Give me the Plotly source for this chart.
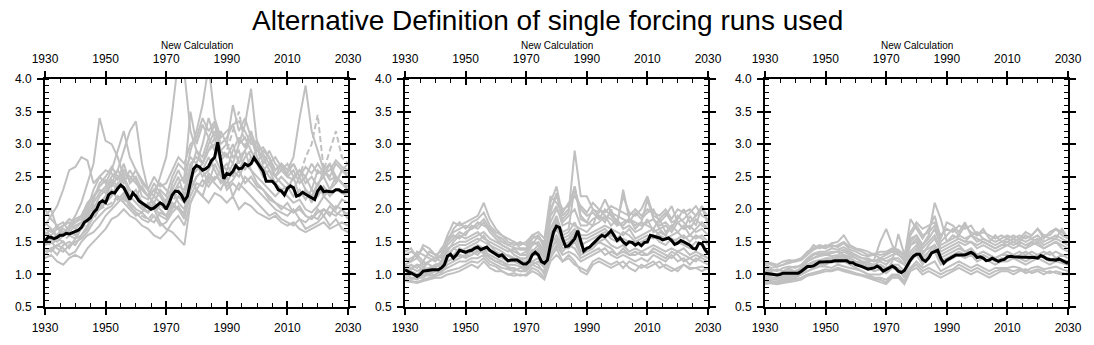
import plotly.graph_objects as go

years = list(range(1930, 2031))
years2 = list(range(1930, 2031, 2))

title_text = "Alternative Definition of single forcing runs used"
subtitle_text = "New Calculation"
x_ticks = [1930, 1950, 1970, 1990, 2010, 2030]
y_ticks = [0.5, 1.0, 1.5, 2.0, 2.5, 3.0, 3.5, 4.0]

# ---------------- panel 1 ----------------
mean1 = [1.51, 1.57, 1.57, 1.55, 1.57, 1.60, 1.60, 1.63, 1.62, 1.64,
         1.66, 1.68, 1.72, 1.80, 1.83, 1.87, 1.95, 2.00, 2.10, 2.13,
         2.10, 2.22, 2.26, 2.25, 2.32, 2.37, 2.33, 2.25, 2.15, 2.25,
         2.20, 2.13, 2.10, 2.06, 2.03, 2.00, 2.02, 2.06, 2.10, 2.07,
         2.00, 2.10, 2.22, 2.28, 2.27, 2.22, 2.13, 2.20, 2.40, 2.62,
         2.67, 2.65, 2.60, 2.62, 2.66, 2.75, 2.80, 3.03, 2.75, 2.47,
         2.55, 2.53, 2.58, 2.67, 2.62, 2.63, 2.70, 2.67, 2.70, 2.79,
         2.72, 2.65, 2.58, 2.43, 2.43, 2.43, 2.38, 2.30, 2.28, 2.22,
         2.32, 2.36, 2.33, 2.20, 2.22, 2.26, 2.23, 2.20, 2.17, 2.15,
         2.28, 2.34, 2.27, 2.28, 2.27, 2.27, 2.30, 2.30, 2.27, 2.27,
         2.27]

p1_g1 = [1.75, 1.9, 2.05, 2.3, 2.6, 2.65, 2.8, 2.75, 2.4, 2.5,
         2.6, 2.55, 2.45, 2.7, 2.4, 2.5, 2.3, 2.2, 2.4, 2.25,
         2.1, 2.3, 2.5, 2.2, 2.6, 2.9, 2.8, 3.1, 3.3, 2.9,
         2.8, 3.0, 2.7, 2.9, 3.1, 2.8, 2.6, 2.7, 2.5, 2.4,
         2.3, 2.5, 2.2, 2.3, 2.1, 2.4, 2.2, 2.3, 2.5, 2.4,
         2.3]
p1_g2 = [1.45, 1.55, 1.5, 1.6, 1.75, 1.9, 2.1, 2.4, 2.7, 3.4,
         3.05, 3.0, 2.8, 2.5, 2.3, 2.2, 2.05, 1.95, 2.1, 2.0,
         1.9, 2.1, 2.0, 1.85, 2.3, 2.5, 2.6, 2.4, 2.7, 2.5,
         2.4, 2.6, 2.5, 2.7, 2.6, 2.4, 2.3, 2.2, 2.1, 2.0,
         2.1, 1.95, 2.0, 1.9, 1.85, 1.95, 2.0, 1.9, 2.05, 2.0,
         1.9]
p1_g3 = [1.6, 1.7, 1.55, 1.65, 1.7, 1.8, 1.85, 2.0, 2.3, 2.5,
         2.4, 2.6, 2.9, 3.2, 2.8, 2.6, 2.4, 2.3, 2.2, 2.5,
         2.8, 3.5, 4.3, 4.1, 3.2, 2.9, 2.7, 3.0, 3.2, 2.9,
         3.0, 2.8, 2.9, 2.6, 2.8, 2.7, 2.5, 2.6, 2.4, 2.5,
         2.4, 2.3, 2.5, 2.3, 2.2, 2.4, 2.5, 2.3, 2.4, 2.6,
         2.5]
p1_g4 = [1.35, 1.4, 1.3, 1.45, 1.5, 1.45, 1.6, 1.75, 1.9, 2.0,
         2.2, 2.4, 2.6, 2.9, 3.2, 3.35, 2.7, 2.3, 2.0, 1.8,
         1.7, 1.65, 1.55, 1.45, 2.1, 2.3, 2.2, 2.5, 2.4, 2.3,
         2.5, 2.2, 2.4, 2.3, 2.2, 2.1, 2.0, 1.9, 1.95, 1.85,
         1.8, 1.75, 1.85, 1.7, 1.75, 1.8, 1.9, 1.75, 1.85, 1.7,
         1.65]
p1_g5 = [1.7, 1.65, 1.75, 1.6, 1.7, 1.85, 1.9, 2.1, 2.2, 2.3,
         2.25, 2.4, 2.3, 2.5, 2.2, 2.3, 2.1, 2.05, 2.2, 2.1,
         2.0, 2.4, 2.6, 2.4, 2.9, 3.2, 3.6, 4.2, 3.4, 3.1,
         3.2, 3.3, 3.0, 3.3, 3.85, 3.0, 2.7, 2.9, 2.7, 2.6,
         2.5, 2.6, 2.4, 2.5, 2.3, 2.6, 2.5, 2.7, 2.4, 2.6,
         2.7]
p1_g6 = [1.3, 1.4, 1.45, 1.5, 1.4, 1.55, 1.6, 1.7, 1.9, 2.0,
         2.1, 2.2, 2.4, 2.35, 2.2, 2.1, 2.0, 1.95, 2.05, 1.9,
         1.85, 2.0, 2.2, 2.1, 2.3, 2.5, 2.6, 2.8, 2.6, 2.4,
         2.5, 2.7, 2.6, 2.8, 2.9, 2.7, 2.9, 2.8, 2.5, 2.7,
         2.6, 2.8, 3.4, 3.9, 3.2, 2.9, 2.6, 2.7, 2.5, 2.4,
         2.3]
p1_g7 = [1.25, 1.3, 1.2, 1.15, 1.25, 1.3, 1.25, 1.4, 1.5, 1.6,
         1.7, 1.85, 1.9, 2.0, 1.9, 1.85, 1.75, 1.7, 1.6, 1.55,
         1.65, 1.8, 1.9, 1.75, 2.1, 2.3, 2.2, 2.1, 2.25, 2.2,
         2.1, 2.2, 2.0, 2.1, 2.05, 1.95, 1.9, 1.85, 1.9, 1.8,
         1.75, 1.8, 1.7, 1.65, 1.7, 1.75, 1.8, 1.7, 1.75, 1.8,
         1.75]
p1_g8 = [1.55, 1.5, 1.6, 1.7, 1.65, 1.6, 1.75, 1.9, 2.05, 2.1,
         2.2, 2.3, 2.15, 2.25, 2.1, 2.0, 1.95, 2.1, 2.0, 2.05,
         2.15, 2.3, 2.1, 2.0, 2.4, 2.7, 2.5, 2.6, 2.8, 2.6,
         2.7, 2.5, 2.8, 2.9, 2.6, 2.5, 2.4, 2.3, 2.2, 2.3,
         2.2, 2.1, 2.15, 2.0, 1.95, 2.05, 2.2, 2.1, 2.0, 2.15,
         2.1]
p1_g9 = [1.8, 1.7, 1.6, 1.75, 1.8, 1.7, 1.8, 1.95, 2.0, 2.2,
         2.3, 2.45, 2.35, 2.6, 2.5, 2.4, 2.3, 2.2, 2.3, 2.4,
         2.3, 2.2, 2.4, 2.5, 3.5, 3.0, 3.3, 3.1, 2.9, 3.2,
         3.0, 3.6, 3.2, 3.4, 3.1, 2.9, 2.95, 2.8, 2.6, 2.7,
         2.5, 2.45, 2.6, 2.5, 2.7, 2.55, 2.6, 2.5, 2.7, 2.6,
         2.55]
p1_g10 = [1.5, 1.45, 1.55, 1.5, 1.6, 1.65, 1.7, 1.8, 1.85, 2.0,
          2.05, 2.1, 2.2, 2.15, 2.05, 1.95, 1.9, 1.85, 1.95, 2.05,
          2.0, 2.1, 2.3, 2.2, 2.5, 2.6, 2.7, 2.9, 3.1, 2.8,
          2.9, 3.2, 3.5, 3.0, 2.8, 2.9, 2.7, 2.8, 2.6, 2.7,
          2.6, 2.7, 2.5, 2.8, 3.0, 3.45, 2.6, 2.9, 3.2, 2.8,
          2.7]
p1_g11 = [1.9, 2.0, 1.7, 1.65, 1.6, 1.55, 1.7, 1.85, 2.1, 2.25,
          2.35, 2.5, 2.6, 2.45, 2.3, 2.2, 2.35, 2.2, 2.1, 2.3,
          2.2, 2.5, 2.7, 2.6, 2.8, 2.7, 3.0, 3.4, 3.1, 2.7,
          2.6, 2.9, 3.1, 2.95, 3.2, 2.9, 2.8, 2.6, 2.5, 2.6,
          2.7, 2.5, 2.6, 2.4, 2.5, 2.35, 2.6, 2.45, 2.5, 2.4,
          2.35]
p1_g12 = [1.4, 1.35, 1.45, 1.4, 1.3, 1.35, 1.5, 1.6, 1.65, 1.75,
          1.9, 2.0, 2.1, 2.2, 2.05, 1.95, 1.85, 1.8, 1.9, 1.75,
          1.8, 1.95, 2.05, 1.9, 2.2, 2.4, 2.35, 2.55, 2.45, 2.6,
          2.3, 2.4, 2.3, 2.5, 2.4, 2.3, 2.2, 2.1, 2.0, 1.95,
          1.9, 2.0, 1.85, 1.8, 1.9, 1.85, 2.0, 1.95, 1.9, 2.0,
          1.85]
p1_g13 = [1.65, 1.6, 1.7, 1.75, 1.85, 1.8, 1.9, 2.05, 2.2, 2.35,
          2.45, 2.35, 2.5, 2.4, 2.6, 2.45, 2.2, 2.15, 2.3, 2.2,
          2.05, 2.25, 2.35, 2.3, 2.7, 2.8, 2.7, 2.9, 3.0, 2.75,
          2.85, 2.7, 3.0, 3.1, 2.9, 2.75, 2.65, 2.5, 2.4, 2.3,
          2.35, 2.2, 2.3, 2.15, 2.3, 2.2, 2.35, 2.2, 2.3, 2.25,
          2.2]
p1_g14 = [1.45, 1.5, 1.4, 1.35, 1.45, 1.5, 1.55, 1.65, 1.8, 1.9,
          2.0, 2.05, 2.2, 2.1, 2.0, 1.9, 1.95, 1.85, 1.8, 1.95,
          1.9, 2.05, 2.0, 1.95, 2.5, 2.3, 2.45, 2.35, 2.5, 2.45,
          2.35, 2.45, 2.6, 2.4, 2.5, 2.35, 2.3, 2.15, 2.1, 2.05,
          2.0, 1.95, 2.05, 1.9, 1.85, 2.0, 1.9, 2.05, 1.95, 1.9,
          1.95]
p1_g15 = [2.0, 1.85, 1.75, 1.8, 1.65, 1.75, 1.8, 1.95, 2.15, 2.4,
          2.5, 2.65, 2.5, 2.55, 2.45, 2.6, 2.45, 2.3, 2.5, 2.35,
          2.4, 2.6, 2.8, 2.7, 3.0, 3.1, 3.4, 3.2, 3.35, 3.0,
          3.1, 3.3, 3.35, 3.2, 3.0, 3.05, 2.85, 2.7, 2.8, 2.65,
          2.55, 2.7, 2.5, 2.65, 2.55, 2.7, 2.55, 2.6, 2.75, 2.65,
          2.6]

# ---------------- panel 2 ----------------
mean2 = [1.07, 1.05, 1.02, 1.00, 0.97, 1.00, 1.05, 1.06, 1.06, 1.07,
         1.07, 1.07, 1.10, 1.15, 1.28, 1.31, 1.25, 1.30, 1.37, 1.36,
         1.34, 1.36, 1.37, 1.40, 1.42, 1.38, 1.40, 1.42, 1.37, 1.34,
         1.30, 1.28, 1.30, 1.25, 1.21, 1.22, 1.22, 1.22, 1.19, 1.16,
         1.16, 1.20, 1.30, 1.34, 1.30, 1.20, 1.17, 1.22, 1.45, 1.65,
         1.74, 1.72, 1.55, 1.43, 1.44, 1.50, 1.55, 1.67, 1.52, 1.36,
         1.40, 1.42, 1.47, 1.52, 1.56, 1.60, 1.58, 1.62, 1.67, 1.60,
         1.52, 1.56, 1.50, 1.46, 1.50, 1.49, 1.45, 1.48, 1.44, 1.49,
         1.50, 1.60, 1.59, 1.58, 1.56, 1.53, 1.55, 1.56, 1.52, 1.46,
         1.48, 1.52, 1.50, 1.47, 1.45, 1.40, 1.39, 1.48, 1.47, 1.38,
         1.32]

p2_h1 = [1.35, 1.4, 1.25, 1.45, 1.4, 1.3, 1.35, 1.6, 1.8, 1.75,
         1.8, 1.85, 1.9, 2.1, 1.85, 1.7, 1.6, 1.55, 1.5, 1.45,
         1.5, 1.6, 1.55, 1.5, 2.1, 2.35, 1.9, 2.0, 2.3, 2.0,
         1.9, 1.95, 1.85, 2.0, 1.9, 1.8, 2.2, 1.95, 1.9, 2.0,
         2.2, 1.9, 1.85, 1.95, 1.8, 1.85, 2.0, 1.8, 1.9, 2.05,
         1.8]
p2_h2 = [1.2, 1.25, 1.3, 1.2, 1.35, 1.3, 1.25, 1.45, 1.55, 1.65,
         1.6, 1.75, 1.7, 1.8, 1.65, 1.55, 1.45, 1.4, 1.35, 1.3,
         1.35, 1.45, 1.6, 1.4, 1.8, 2.0, 1.85, 1.95, 2.9, 2.2,
         2.2, 2.0, 1.9, 1.85, 1.95, 1.8, 1.75, 1.85, 1.7, 1.8,
         1.75, 1.7, 1.85, 1.65, 1.75, 1.8, 1.7, 1.9, 1.75, 2.05,
         1.75]
p2_h3 = [1.0, 0.95, 0.92, 1.0, 1.0, 1.05, 1.02, 1.15, 1.2, 1.25,
         1.3, 1.35, 1.3, 1.4, 1.25, 1.2, 1.2, 1.1, 1.1, 1.05,
         1.05, 1.15, 1.2, 1.1, 1.35, 1.55, 1.4, 1.4, 1.5, 1.3,
         1.35, 1.4, 1.5, 1.45, 1.4, 1.3, 1.35, 1.3, 1.35, 1.3,
         1.3, 1.4, 1.35, 1.3, 1.25, 1.35, 1.3, 1.25, 1.2, 1.3,
         1.25]
p2_h4 = [0.9, 0.88, 0.87, 0.9, 0.92, 0.95, 0.95, 1.0, 1.02, 1.05,
         1.1, 1.15, 1.1, 1.2, 1.1, 1.05, 1.05, 1.0, 0.98, 1.0,
         0.98, 1.05, 1.0, 0.92, 1.2, 1.3, 1.2, 1.25, 1.15, 1.1,
         1.05, 1.2, 1.25, 1.2, 1.15, 1.2, 1.1, 1.2, 1.15, 1.1,
         1.15, 1.2, 1.1, 1.15, 1.1, 1.05, 1.15, 1.1, 1.1, 1.05,
         1.1]
p2_h5 = [1.15, 1.1, 1.05, 1.1, 1.2, 1.25, 1.2, 1.35, 1.5, 1.6,
         1.55, 1.6, 1.65, 1.55, 1.5, 1.45, 1.4, 1.35, 1.4, 1.3,
         1.3, 1.45, 1.5, 1.35, 1.9, 2.05, 1.75, 1.8, 1.75, 1.7,
         1.65, 1.75, 1.8, 1.9, 1.75, 1.85, 1.7, 1.75, 1.65, 1.7,
         1.85, 1.65, 1.7, 1.75, 1.65, 1.8, 1.7, 1.75, 1.65, 1.7,
         1.6]
p2_h6 = [1.05, 1.1, 1.15, 1.05, 1.1, 1.15, 1.1, 1.25, 1.4, 1.35,
         1.4, 1.45, 1.5, 1.6, 1.45, 1.35, 1.3, 1.3, 1.25, 1.2,
         1.2, 1.3, 1.4, 1.25, 1.6, 1.85, 1.65, 1.7, 2.35, 1.9,
         1.8, 1.75, 2.0, 1.9, 1.85, 1.75, 2.3, 1.85, 1.75, 1.8,
         2.15, 1.85, 1.7, 1.6, 1.75, 1.65, 1.75, 1.6, 1.7, 1.8,
         1.7]
p2_h7 = [1.08, 1.02, 1.0, 0.98, 1.05, 1.05, 1.1, 1.3, 1.3, 1.4,
         1.35, 1.4, 1.45, 1.4, 1.35, 1.3, 1.25, 1.2, 1.2, 1.15,
         1.2, 1.3, 1.3, 1.2, 1.5, 1.7, 1.5, 1.55, 1.65, 1.45,
         1.5, 1.55, 1.6, 1.65, 1.55, 1.5, 1.55, 1.5, 1.45, 1.5,
         1.55, 1.6, 1.5, 1.45, 1.55, 1.5, 1.45, 1.4, 1.5, 1.45,
         1.35]
p2_h8 = [0.95, 0.93, 0.95, 1.0, 0.98, 1.0, 1.05, 1.1, 1.15, 1.2,
         1.2, 1.25, 1.25, 1.3, 1.2, 1.15, 1.1, 1.08, 1.05, 1.1,
         1.1, 1.2, 1.15, 1.0, 1.3, 1.45, 1.3, 1.35, 1.3, 1.2,
         1.25, 1.3, 1.35, 1.4, 1.3, 1.25, 1.3, 1.25, 1.2, 1.25,
         1.2, 1.3, 1.25, 1.2, 1.3, 1.2, 1.25, 1.15, 1.25, 1.2,
         1.15]
p2_h9 = [1.25, 1.2, 1.35, 1.3, 1.25, 1.2, 1.3, 1.55, 1.65, 1.7,
         1.75, 1.7, 1.8, 1.75, 1.7, 1.6, 1.55, 1.45, 1.5, 1.4,
         1.4, 1.55, 1.6, 1.45, 2.0, 2.2, 2.0, 2.05, 2.35, 1.85,
         1.8, 2.0, 1.95, 2.15, 1.95, 1.9, 1.85, 1.8, 1.95, 1.85,
         1.95, 2.0, 1.8, 1.9, 2.05, 1.8, 1.85, 1.95, 2.05, 1.9,
         1.85]
p2_h10 = [0.92, 0.9, 0.88, 0.92, 0.95, 0.98, 1.0, 1.05, 1.08, 1.1,
          1.15, 1.2, 1.18, 1.25, 1.15, 1.12, 1.05, 1.0, 1.02, 0.98,
          1.0, 1.1, 1.05, 0.95, 1.25, 1.4, 1.2, 1.3, 1.2, 1.05,
          1.0, 1.15, 1.2, 1.15, 1.1, 1.15, 1.2, 1.1, 1.05, 1.15,
          1.1, 1.15, 1.2, 1.1, 1.05, 1.1, 1.15, 1.08, 1.1, 1.12,
          1.08]
p2_h11 = [1.1, 1.15, 1.1, 1.2, 1.15, 1.1, 1.2, 1.4, 1.45, 1.5,
          1.5, 1.55, 1.6, 1.65, 1.55, 1.5, 1.45, 1.4, 1.3, 1.25,
          1.25, 1.35, 1.45, 1.3, 1.7, 1.9, 1.6, 1.65, 1.8, 1.6,
          1.6, 1.65, 1.7, 1.75, 1.7, 1.65, 1.6, 1.7, 1.55, 1.6,
          1.65, 1.7, 1.6, 1.55, 1.6, 1.65, 1.55, 1.6, 1.55, 1.6,
          1.5]
p2_h12 = [1.0, 1.05, 1.0, 1.08, 1.1, 1.12, 1.15, 1.2, 1.25, 1.3,
          1.28, 1.3, 1.35, 1.35, 1.3, 1.25, 1.2, 1.15, 1.15, 1.12,
          1.12, 1.2, 1.25, 1.1, 1.45, 1.6, 1.45, 1.5, 1.6, 1.35,
          1.4, 1.45, 1.5, 1.55, 1.45, 1.4, 1.45, 1.35, 1.4, 1.35,
          1.4, 1.45, 1.4, 1.35, 1.4, 1.35, 1.4, 1.3, 1.35, 1.3,
          1.25]
p2_h13 = [1.15, 1.2, 1.25, 1.15, 1.2, 1.25, 1.3, 1.5, 1.6, 1.55,
          1.65, 1.7, 1.75, 1.85, 1.7, 1.6, 1.5, 1.45, 1.42, 1.38,
          1.38, 1.5, 1.45, 1.4, 1.95, 2.25, 1.8, 1.9, 2.0, 1.75,
          1.75, 1.85, 1.9, 1.8, 2.0, 1.75, 1.8, 1.85, 1.8, 1.75,
          1.8, 1.85, 1.75, 1.8, 1.7, 1.9, 1.8, 1.7, 1.85, 1.75,
          1.7]
p2_h14 = [0.98, 1.0, 0.95, 0.95, 1.02, 1.08, 1.05, 1.2, 1.25, 1.3,
          1.25, 1.3, 1.38, 1.32, 1.25, 1.2, 1.15, 1.12, 1.08, 1.05,
          1.08, 1.15, 1.1, 1.05, 1.4, 1.5, 1.35, 1.45, 1.4, 1.25,
          1.3, 1.35, 1.4, 1.3, 1.35, 1.3, 1.4, 1.3, 1.3, 1.35,
          1.3, 1.35, 1.3, 1.25, 1.35, 1.3, 1.2, 1.25, 1.3, 1.25,
          1.2]
p2_h15 = [1.12, 1.08, 1.15, 1.12, 1.05, 1.15, 1.18, 1.3, 1.4, 1.45,
          1.45, 1.5, 1.55, 1.5, 1.45, 1.4, 1.35, 1.28, 1.25, 1.22,
          1.25, 1.38, 1.35, 1.25, 1.6, 1.8, 1.55, 1.6, 1.7, 1.55,
          1.55, 1.6, 1.65, 1.7, 1.6, 1.55, 1.65, 1.6, 1.5, 1.55,
          1.6, 1.55, 1.65, 1.6, 1.5, 1.55, 1.6, 1.5, 1.6, 1.55,
          1.45]
p2_h16 = [1.3, 1.35, 1.3, 1.4, 1.3, 1.25, 1.4, 1.5, 1.7, 1.8,
          1.7, 1.8, 1.85, 1.95, 1.75, 1.65, 1.6, 1.5, 1.45, 1.5,
          1.45, 1.6, 1.65, 1.55, 2.2, 2.1, 1.95, 2.1, 2.2, 2.05,
          1.95, 2.1, 2.0, 1.95, 2.05, 2.0, 1.95, 1.9, 2.0, 1.9,
          2.0, 1.95, 1.9, 2.0, 1.85, 2.0, 1.95, 2.0, 1.9, 2.0,
          1.9]

# ---------------- panel 3 ----------------
mean3 = [1.02, 1.01, 1.00, 1.00, 0.99, 1.00, 1.02, 1.02, 1.02, 1.02,
         1.02, 1.02, 1.05, 1.08, 1.12, 1.12, 1.13, 1.16, 1.19, 1.19,
         1.19, 1.20, 1.20, 1.21, 1.21, 1.22, 1.22, 1.21, 1.18, 1.18,
         1.15, 1.14, 1.12, 1.10, 1.08, 1.09, 1.10, 1.13, 1.10, 1.05,
         1.07, 1.10, 1.13, 1.10, 1.05, 1.03, 1.06, 1.15, 1.22, 1.28,
         1.31, 1.31, 1.23, 1.20, 1.25, 1.33, 1.35, 1.37, 1.25, 1.17,
         1.22, 1.25, 1.27, 1.30, 1.30, 1.30, 1.30, 1.32, 1.34, 1.31,
         1.26, 1.27, 1.25, 1.21, 1.22, 1.25, 1.22, 1.20, 1.22, 1.23,
         1.27, 1.28, 1.27, 1.27, 1.27, 1.27, 1.26, 1.27, 1.26, 1.26,
         1.25, 1.29, 1.27, 1.24, 1.23, 1.22, 1.22, 1.24, 1.22, 1.20,
         1.17]

p3_k1 = [1.2, 1.18, 1.15, 1.2, 1.22, 1.2, 1.25, 1.35, 1.4, 1.45,
         1.42, 1.48, 1.5, 1.6, 1.45, 1.4, 1.38, 1.35, 1.3, 1.35,
         1.35, 1.4, 1.38, 1.3, 1.65, 1.8, 1.7, 1.75, 1.8, 1.6,
         1.7, 1.65, 1.75, 1.7, 1.75, 1.6, 1.7, 1.55, 1.5, 1.55,
         1.6, 1.55, 1.6, 1.55, 1.6, 1.7, 1.6, 1.6, 1.7, 1.65,
         1.55]
p3_k2 = [1.0, 0.98, 1.0, 1.02, 1.05, 1.05, 1.08, 1.2, 1.25, 1.3,
         1.3, 1.32, 1.35, 1.3, 1.28, 1.25, 1.2, 1.2, 1.22, 1.5,
         1.7, 1.45, 1.3, 1.25, 1.5, 1.6, 1.45, 1.6, 2.1, 1.85,
         1.5, 1.6, 1.55, 1.5, 1.6, 1.55, 1.5, 1.45, 1.4, 1.45,
         1.45, 1.5, 1.45, 1.4, 1.5, 1.45, 1.4, 1.45, 1.5, 1.4,
         1.35]
p3_k3 = [0.92, 0.9, 0.88, 0.9, 0.92, 0.95, 1.0, 1.05, 1.1, 1.15,
         1.15, 1.2, 1.18, 1.2, 1.15, 1.1, 1.05, 1.0, 1.0, 1.0,
         1.05, 1.2, 1.62, 1.3, 1.45, 1.5, 1.35, 1.4, 1.45, 1.3,
         1.35, 1.4, 1.45, 1.35, 1.4, 1.3, 1.35, 1.3, 1.25, 1.3,
         1.3, 1.25, 1.3, 1.35, 1.3, 1.25, 1.3, 1.35, 1.25, 1.3,
         1.25]
p3_k4 = [0.88, 0.86, 0.85, 0.87, 0.88, 0.9, 0.92, 0.98, 1.0, 1.02,
         1.05, 1.05, 1.08, 1.05, 1.02, 1.0, 0.98, 0.95, 0.92, 0.88,
         0.85, 0.95, 0.95, 0.85, 1.05, 1.1, 1.0, 1.05, 1.0, 0.95,
         1.0, 1.05, 1.1, 1.05, 1.0, 1.05, 1.0, 0.95, 1.0, 1.05,
         1.05, 1.0, 1.05, 1.08, 1.02, 1.05, 1.0, 1.05, 1.02, 1.0,
         1.02]
p3_k5 = [1.05, 1.02, 1.0, 1.05, 1.08, 1.05, 1.1, 1.2, 1.25, 1.28,
         1.3, 1.28, 1.3, 1.35, 1.3, 1.25, 1.2, 1.18, 1.15, 1.2,
         1.15, 1.25, 1.2, 1.15, 1.35, 1.45, 1.3, 1.45, 1.55, 1.35,
         1.4, 1.45, 1.5, 1.45, 1.5, 1.4, 1.45, 1.4, 1.35, 1.4,
         1.45, 1.4, 1.45, 1.4, 1.45, 1.5, 1.4, 1.45, 1.5, 1.45,
         1.4]
p3_k6 = [1.15, 1.1, 1.12, 1.15, 1.18, 1.2, 1.22, 1.3, 1.38, 1.42,
         1.4, 1.45, 1.42, 1.48, 1.38, 1.35, 1.3, 1.28, 1.3, 1.25,
         1.3, 1.35, 1.3, 1.25, 1.85, 1.7, 1.55, 1.7, 1.9, 1.55,
         1.8, 1.75, 1.65, 1.8, 1.6, 1.65, 1.55, 1.5, 1.6, 1.5,
         1.5, 1.55, 1.5, 1.6, 1.55, 1.5, 1.6, 1.55, 1.55, 1.7,
         1.55]
p3_k7 = [0.95, 0.92, 0.93, 0.95, 0.98, 1.0, 1.02, 1.1, 1.15, 1.18,
         1.2, 1.18, 1.22, 1.25, 1.2, 1.15, 1.12, 1.1, 1.05, 1.08,
         1.02, 1.1, 1.08, 0.95, 1.2, 1.3, 1.15, 1.3, 1.35, 1.15,
         1.2, 1.25, 1.3, 1.25, 1.3, 1.2, 1.25, 1.2, 1.15, 1.2,
         1.2, 1.25, 1.2, 1.15, 1.2, 1.25, 1.2, 1.15, 1.2, 1.18,
         1.15]
p3_k8 = [1.1, 1.08, 1.05, 1.1, 1.12, 1.1, 1.15, 1.25, 1.32, 1.35,
         1.35, 1.4, 1.38, 1.42, 1.35, 1.3, 1.25, 1.25, 1.2, 1.22,
         1.25, 1.3, 1.32, 1.2, 1.55, 1.6, 1.45, 1.55, 1.7, 1.45,
         1.5, 1.55, 1.6, 1.55, 1.6, 1.5, 1.55, 1.5, 1.45, 1.5,
         1.55, 1.5, 1.55, 1.5, 1.55, 1.6, 1.5, 1.55, 1.6, 1.55,
         1.5]
p3_k9 = [0.9, 0.88, 0.9, 0.92, 0.95, 0.98, 1.0, 1.05, 1.08, 1.12,
         1.12, 1.1, 1.15, 1.12, 1.1, 1.08, 1.05, 1.0, 0.95, 0.95,
         0.92, 1.0, 1.0, 0.9, 1.1, 1.2, 1.1, 1.15, 1.2, 1.05,
         1.1, 1.15, 1.2, 1.15, 1.1, 1.15, 1.1, 1.05, 1.1, 1.1,
         1.1, 1.12, 1.1, 1.05, 1.1, 1.12, 1.08, 1.1, 1.12, 1.08,
         1.05]
p3_k10 = [1.02, 1.0, 0.98, 1.0, 1.02, 1.03, 1.05, 1.15, 1.2, 1.22,
          1.25, 1.25, 1.28, 1.3, 1.25, 1.2, 1.18, 1.15, 1.12, 1.15,
          1.1, 1.15, 1.15, 1.05, 1.3, 1.4, 1.25, 1.35, 1.45, 1.25,
          1.3, 1.35, 1.4, 1.35, 1.35, 1.3, 1.35, 1.3, 1.25, 1.3,
          1.35, 1.3, 1.35, 1.3, 1.35, 1.3, 1.35, 1.3, 1.35, 1.3,
          1.3]
p3_k11 = [1.08, 1.05, 1.08, 1.05, 1.1, 1.12, 1.12, 1.22, 1.3, 1.32,
          1.32, 1.35, 1.35, 1.38, 1.32, 1.28, 1.25, 1.22, 1.2, 1.25,
          1.2, 1.25, 1.25, 1.15, 1.45, 1.55, 1.4, 1.5, 1.6, 1.4,
          1.45, 1.5, 1.55, 1.5, 1.5, 1.45, 1.5, 1.45, 1.4, 1.45,
          1.5, 1.45, 1.5, 1.45, 1.5, 1.55, 1.45, 1.5, 1.55, 1.5,
          1.45]
p3_k12 = [0.98, 0.95, 0.95, 0.98, 1.0, 1.02, 1.05, 1.12, 1.18, 1.2,
          1.22, 1.22, 1.25, 1.28, 1.22, 1.18, 1.15, 1.12, 1.1, 1.12,
          1.08, 1.12, 1.1, 1.0, 1.25, 1.35, 1.2, 1.3, 1.4, 1.2,
          1.25, 1.3, 1.35, 1.3, 1.3, 1.25, 1.3, 1.25, 1.2, 1.25,
          1.25, 1.28, 1.25, 1.2, 1.25, 1.3, 1.25, 1.2, 1.25, 1.22,
          1.2]
p3_k13 = [1.18, 1.15, 1.12, 1.15, 1.2, 1.22, 1.25, 1.32, 1.45, 1.4,
          1.45, 1.42, 1.45, 1.5, 1.42, 1.38, 1.35, 1.3, 1.32, 1.3,
          1.32, 1.38, 1.35, 1.28, 1.6, 1.75, 1.6, 1.65, 1.75, 1.5,
          1.6, 1.7, 1.6, 1.75, 1.65, 1.6, 1.65, 1.6, 1.55, 1.6,
          1.55, 1.6, 1.55, 1.65, 1.6, 1.7, 1.55, 1.65, 1.7, 1.6,
          1.55]
p3_k14 = [0.85, 0.87, 0.86, 0.88, 0.9, 0.92, 0.95, 1.0, 1.02, 1.05,
          1.08, 1.06, 1.1, 1.08, 1.05, 1.02, 1.0, 0.97, 0.93, 0.92,
          0.88, 0.98, 0.98, 0.88, 1.08, 1.15, 1.05, 1.1, 1.05, 1.0,
          1.05, 1.08, 1.15, 1.1, 1.05, 1.1, 1.05, 1.0, 1.05, 1.08,
          1.08, 1.05, 1.08, 1.02, 1.05, 1.08, 1.05, 1.02, 1.05, 1.02,
          1.0]

panels = [
    dict(mean=mean1, members=[p1_g1, p1_g2, p1_g3, p1_g4, p1_g5, p1_g6, p1_g7,
                              p1_g8, p1_g9, p1_g11, p1_g12, p1_g13, p1_g14,
                              p1_g15], dashed=[p1_g10]),
    dict(mean=mean2, members=[p2_h1, p2_h2, p2_h3, p2_h4, p2_h5, p2_h6, p2_h7,
                              p2_h8, p2_h9, p2_h10, p2_h11, p2_h12, p2_h13,
                              p2_h14, p2_h15, p2_h16], dashed=[]),
    dict(mean=mean3, members=[p3_k1, p3_k2, p3_k3, p3_k4, p3_k5, p3_k6, p3_k7,
                              p3_k8, p3_k9, p3_k10, p3_k11, p3_k12, p3_k13,
                              p3_k14], dashed=[]),
]

W, H = 1094, 345
x_px = [(45, 348), (405, 708), (765, 1068)]
y_dom = [(H - 307) / H, (H - 79) / H]

GREY = "#c0c0c0"
FONT = "Liberation Sans, Arial, Helvetica, sans-serif"

fig = go.Figure()
layout = dict(
    width=W, height=H,
    margin=dict(l=0, r=0, t=0, b=0, pad=0, autoexpand=False),
    paper_bgcolor="white", plot_bgcolor="white",
    showlegend=False, hovermode=False,
    font=dict(family=FONT, color="black", size=12),
)

for i, p in enumerate(panels):
    n = i + 1
    m = i + 4
    xs = "" if n == 1 else str(n)
    xa, ya = "x" + xs, "y" + xs
    xo, yo = "x" + str(m), "y" + str(m)
    for s in p["members"]:
        fig.add_trace(go.Scatter(x=years2, y=s, mode="lines", xaxis=xa, yaxis=ya,
                                 line=dict(color=GREY, width=2), hoverinfo="skip"))
    for s in p["dashed"]:
        fig.add_trace(go.Scatter(x=years2, y=s, mode="lines", xaxis=xa, yaxis=ya,
                                 line=dict(color=GREY, width=2, dash="6px,3px"),
                                 hoverinfo="skip"))
    fig.add_trace(go.Scatter(x=years, y=p["mean"], mode="lines", xaxis=xa, yaxis=ya,
                             line=dict(color="black", width=3), hoverinfo="skip"))
    # helper traces so overlay axes (inner half of crossing ticks, top labels) exist
    fig.add_trace(go.Scatter(x=[None], y=[None], xaxis=xo, yaxis=ya, hoverinfo="skip"))
    fig.add_trace(go.Scatter(x=[None], y=[None], xaxis=xa, yaxis=yo, hoverinfo="skip"))

    dom = [x_px[i][0] / W, x_px[i][1] / W]
    common_x = dict(range=[1930, 2030], tickvals=x_ticks, showgrid=False,
                    zeroline=False, automargin=False,
                    tickfont=dict(size=12, family=FONT))
    common_y = dict(range=[0.5, 4.0], tickvals=y_ticks, showgrid=False,
                    zeroline=False, automargin=False, tickformat=".1f",
                    tickfont=dict(size=12, family=FONT))
    layout["xaxis" + xs] = dict(
        domain=dom, anchor=ya, side="bottom", ticks="outside", ticklen=6,
        tickwidth=1.5, tickcolor="black", mirror="ticks", showline=True,
        linewidth=2, linecolor="black", ticklabelstandoff=3,
        minor=dict(tickvals=list(range(1935, 2030, 5)), ticks="inside",
                   ticklen=4, tickwidth=1, tickcolor="black"),
        **common_x)
    layout["yaxis" + xs] = dict(
        domain=list(y_dom), anchor=xa, side="left", ticks="outside", ticklen=6,
        tickwidth=1.5, tickcolor="black", mirror="ticks", showline=True,
        linewidth=2, linecolor="black", ticklabelstandoff=3,
        minor=dict(dtick=0.1, tick0=0.5, ticks="inside", ticklen=4,
                   tickwidth=1, tickcolor="black"),
        **common_y)
    layout["xaxis" + str(m)] = dict(
        overlaying=xa, anchor=ya, side="top", ticks="inside", ticklen=6,
        tickwidth=1.5, tickcolor="black", mirror="ticks", showline=False,
        showticklabels=True, ticklabelstandoff=13, **common_x)
    layout["yaxis" + str(m)] = dict(
        overlaying=ya, anchor=xa, side="right", ticks="inside", ticklen=6,
        tickwidth=1.5, tickcolor="black", mirror="ticks", showline=False,
        showticklabels=False, **common_y)

annotations = [dict(text=title_text, x=0.5, y=1 - 20 / H, xref="paper", yref="paper",
                    showarrow=False, xanchor="center", yanchor="middle",
                    font=dict(size=28, family=FONT, color="black"))]
for i in range(3):
    cx = (x_px[i][0] + x_px[i][1]) / 2 / W
    annotations.append(dict(text=subtitle_text, x=cx, y=1 - 46 / H, xref="paper",
                            yref="paper", showarrow=False, xanchor="center",
                            yanchor="middle",
                            font=dict(size=10, family=FONT, color="black")))
layout["annotations"] = annotations

fig.update_layout(**layout)
fig.write_html("out.html")
